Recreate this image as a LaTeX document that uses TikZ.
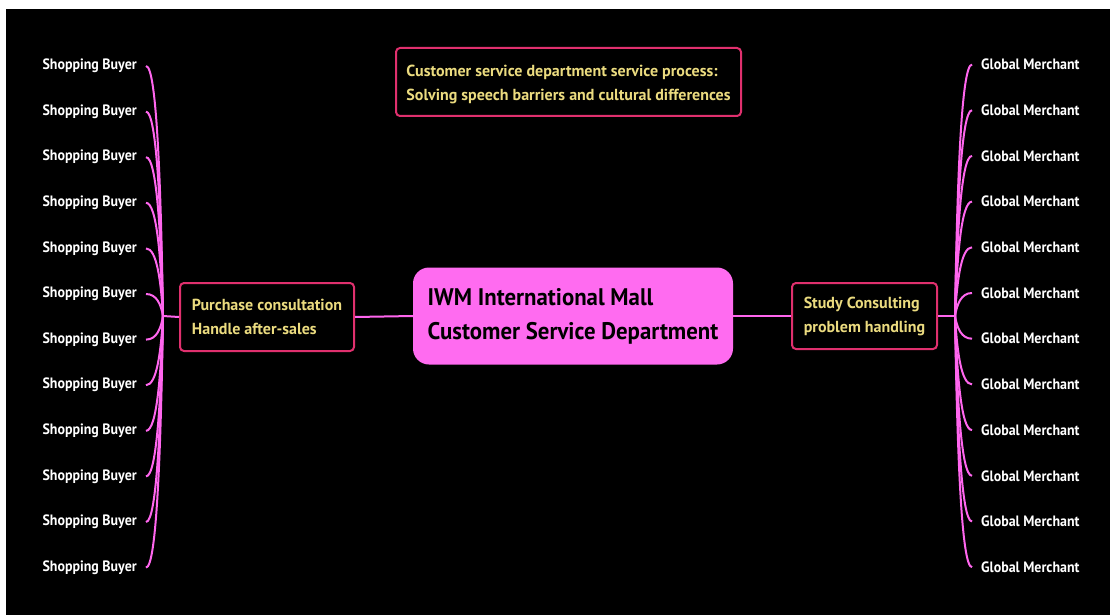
\documentclass[tikz,border=0pt]{standalone}
\usepackage{fontspec}
\setmainfont{PT Sans}
\newfontfamily\leaffont[FakeStretch=0.93]{PT Sans}
\newfontfamily\ctrfont[FakeStretch=0.95]{PT Sans}
\definecolor{conn}{HTML}{FF66EE}
\definecolor{boxline}{HTML}{E0306E}
\definecolor{ctrfill}{HTML}{FF6BF0}
\definecolor{txtyel}{HTML}{EBDB7F}
\tikzset{
  leafL/.style={anchor=east, inner xsep=9pt, inner ysep=0pt, text=white, font=\leaffont\bfseries\fontsize{15}{17}\selectfont},
  leafR/.style={anchor=west, inner xsep=9pt, inner ysep=0pt, text=white, font=\leaffont\bfseries\fontsize{15}{17}\selectfont},
  midbox/.style={draw=boxline, line width=2pt, rounded corners=4pt, fill=black, text=txtyel, align=left, font=\bfseries\fontsize{16}{24}\selectfont},
  boxtext/.style={text=txtyel, align=left, font=\bfseries\fontsize{16}{23.5}\selectfont},
  ctrbox/.style={fill=ctrfill, rounded corners=16pt, text=black, align=left, minimum width=320pt, minimum height=97pt, font=\ctrfont\bfseries\fontsize{24}{34}\selectfont},
  conline/.style={draw=conn, line width=2pt},
}
\begin{document}
\begin{tikzpicture}[x=1pt,y=-1pt]
\useasboundingbox (0,0) rectangle (1110,615);
\fill[white] (0,0) rectangle (1110,615);
\fill[black] (6,9) rectangle (1110,615);

\node[ctrbox] (ctr) at (573,316) {IWM International Mall\\Customer Service Department};
\node[midbox, minimum width=174pt, minimum height=68pt] (pur) at (267,317) {Purchase consultation\\Handle after-sales};
\node[midbox, minimum width=145pt, minimum height=66pt] (stu) at (864.5,316) {Study Consulting\\problem handling};
\node[midbox, minimum width=345pt, minimum height=68pt] (top) at (568.5,82) {};
\node[boxtext] (toptxt) at ([yshift=-2.5pt]top.center) {Customer service department service process:\\Solving speech barriers and cultural differences};

\coordinate (jl) at (163,316);
\coordinate (jr) at (955,316);

\draw[conline] (pur.east) -- (ctr.west);
\draw[conline] (ctr.east) -- (stu.west);
\draw[conline] (jl) -- (pur.west);
\draw[conline] (stu.east) -- (jr);

\foreach \i in {0,...,11}{
  \pgfmathsetmacro{\yl}{66+45.6*\i}
  \pgfmathsetmacro{\yr}{64.5+45.7*\i}
  \pgfmathsetmacro{\ml}{(\yl+316)/2}
  \pgfmathsetmacro{\mr}{(\yr+316)/2}
  \node[leafL] (L\i) at (146,\yl) {Shopping Buyer};
  \node[leafR] (R\i) at (972,\yr) {Global Merchant};
  \draw[conline] (L\i.east) .. controls (157,\yl) and (161,\ml) .. (jl);
  \draw[conline] (R\i.west) .. controls (961,\yr) and (957,\mr) .. (jr);
}
\end{tikzpicture}
\end{document}
